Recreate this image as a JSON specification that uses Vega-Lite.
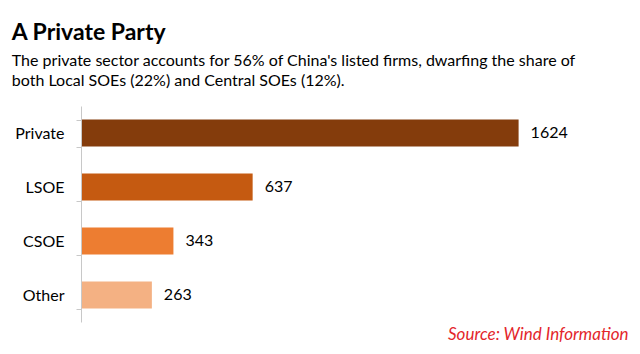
{
  "$schema": "https://vega.github.io/schema/vega-lite/v6.json",
  "width": 547,
  "height": 216,
  "autosize": {"type": "none"},
  "padding": {"left": 81, "top": 106, "right": 12, "bottom": 32},
  "background": "white",
  "title": {
    "text": "A Private Party",
    "subtitle": ["The private sector accounts for 56% of China's listed firms, dwarfing the share of", "both Local SOEs (22%) and Central SOEs (12%)."],
    "anchor": "start",
    "frame": "bounds",
    "dx": -3,
    "font": "Lato",
    "fontSize": 23,
    "fontWeight": "bold",
    "color": "#000000",
    "subtitleFont": "Lato",
    "subtitleFontSize": 16,
    "subtitleColor": "#000000",
    "subtitleLineHeight": 20,
    "subtitlePadding": 8,
    "offset": 9
  },
  "data": {
    "values": [
      {"sector": "Private", "firms": 1624},
      {"sector": "LSOE", "firms": 637},
      {"sector": "CSOE", "firms": 343},
      {"sector": "Other", "firms": 263}
    ]
  },
  "encoding": {
    "y": {
      "field": "sector",
      "type": "nominal",
      "sort": ["Private", "LSOE", "CSOE", "Other"],
      "scale": {"paddingInner": 0.5, "paddingOuter": 0.25},
      "axis": {
        "title": null,
        "domain": true,
        "domainColor": "#c8c8c8",
        "domainWidth": 1,
        "ticks": true,
        "tickColor": "#c8c8c8",
        "tickWidth": 1,
        "tickSize": 5,
        "tickBand": "extent",
        "labelFont": "Lato",
        "labelFontSize": 16,
        "labelColor": "#000000",
        "labelPadding": 12,
        "zindex": 1
      }
    },
    "x": {
      "field": "firms",
      "type": "quantitative",
      "scale": {"domain": [0, 2030]},
      "axis": {
        "title": "Source: Wind Information",
        "titleAnchor": "end",
        "titleFont": "Lato",
        "titleFontSize": 17,
        "titleFontStyle": "italic",
        "titleFontWeight": "normal",
        "titleColor": "#e3262b",
        "titlePadding": 4,
        "labels": false,
        "ticks": false,
        "domain": false,
        "grid": false
      }
    }
  },
  "layer": [
    {
      "mark": {"type": "bar"},
      "encoding": {
        "color": {
          "field": "sector",
          "type": "nominal",
          "scale": {"domain": ["Private", "LSOE", "CSOE", "Other"], "range": ["#843c0c", "#c55a11", "#ed7d31", "#f4b183"]},
          "legend": null
        }
      }
    },
    {
      "mark": {"type": "text", "align": "left", "baseline": "middle", "dx": 12, "font": "Lato", "fontSize": 16, "color": "#000000"},
      "encoding": {"text": {"field": "firms", "type": "quantitative"}}
    }
  ],
  "config": {"view": {"stroke": null}}
}
